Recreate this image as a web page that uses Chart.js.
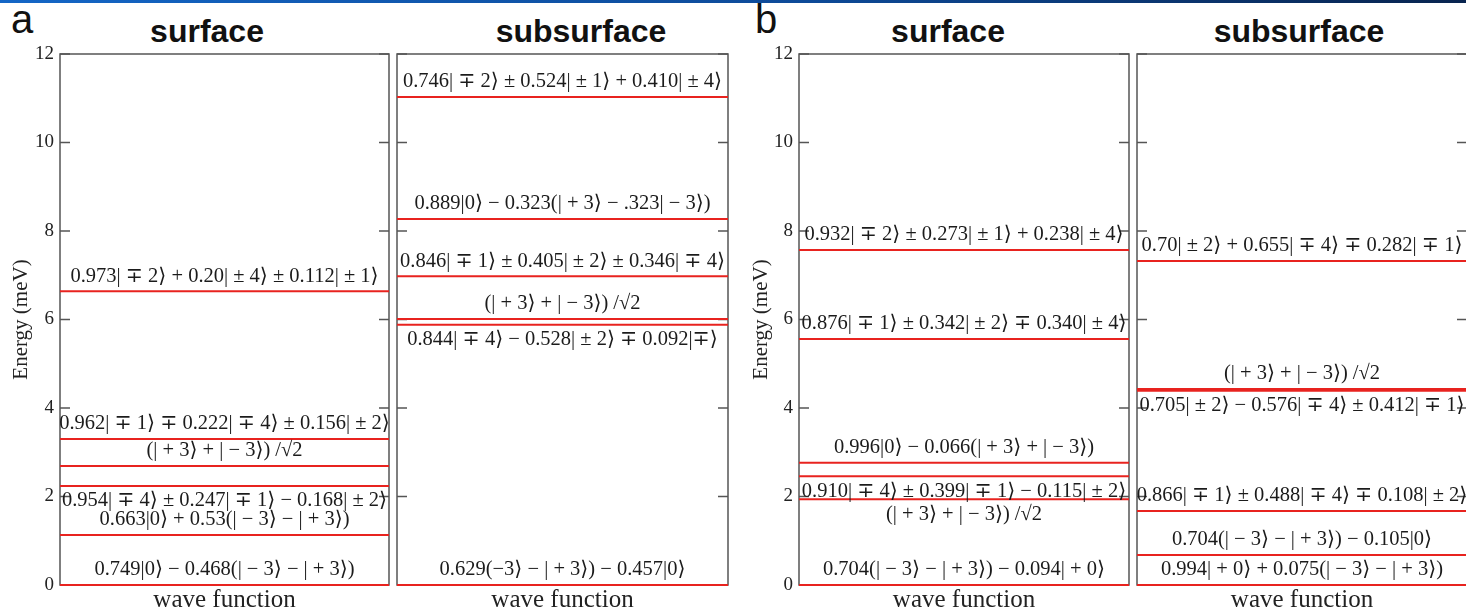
<!DOCTYPE html>
<html>
<head>
<meta charset="utf-8">
<script src="https://cdn.jsdelivr.net/npm/chart.js@4.4.1/dist/chart.umd.min.js"></script>
<style>
  body { margin: 0; width: 1466px; height: 615px; overflow: hidden; background: #fff; position: relative; }
  .strip { position: absolute; left: 0; top: 0; width: 1466px; height: 3px;
    background: linear-gradient(to right, #1466c6, #0d4a98 55%, #08244f); }
  .letter { position: absolute; top: -1px; font: 40px/40px "Liberation Sans", Arial, sans-serif; color: #111; }
  .ptitle { position: absolute; top: 15px; width: 300px; text-align: center;
    font: bold 32px/32px "Liberation Sans", Arial, sans-serif; color: #111; }
  canvas { position: absolute; top: 0; }
</style>
</head>
<body>
<div class="strip"></div>
<div class="letter" style="left:11px">a</div>
<div class="letter" style="left:755px">b</div>
<div class="ptitle" style="left:57px">surface</div>
<div class="ptitle" style="left:431px">subsurface</div>
<div class="ptitle" style="left:798px">surface</div>
<div class="ptitle" style="left:1149px">subsurface</div>
<canvas id="aSurface"></canvas>
<canvas id="aSubsurface"></canvas>
<canvas id="bSurface"></canvas>
<canvas id="bSubsurface"></canvas>
<script>
// energy levels (meV) and their wave functions, per panel
const yTicks = [0, 2, 4, 6, 8, 10, 12];

const aSurfaceEnergy = [0, 1.13, 2.24, 2.69, 3.30, 6.64];
const aSurfaceWave = [
  "0.749|0⟩ − 0.468(| − 3⟩ − | + 3⟩)",
  "0.663|0⟩ + 0.53(| − 3⟩ − | + 3⟩)",
  "0.954| ∓ 4⟩ ± 0.247| ∓ 1⟩ − 0.168| ± 2⟩",
  "(| + 3⟩ + | − 3⟩) /√2",
  "0.962| ∓ 1⟩ ∓ 0.222| ∓ 4⟩ ± 0.156| ± 2⟩",
  "0.973| ∓ 2⟩ + 0.20| ± 4⟩ ± 0.112| ± 1⟩"
];
const aSurfaceSide = ["up", "up", "down", "up", "up", "up"];

const aSubEnergy = [0, 5.88, 6.01, 6.98, 8.27, 11.03];
const aSubWave = [
  "0.629(−3⟩ − | + 3⟩) − 0.457|0⟩",
  "0.844| ∓ 4⟩ − 0.528| ± 2⟩ ∓ 0.092|∓⟩",
  "(| + 3⟩ + | − 3⟩) /√2",
  "0.846| ∓ 1⟩ ± 0.405| ± 2⟩ ± 0.346| ∓ 4⟩",
  "0.889|0⟩ − 0.323(| + 3⟩ − .323| − 3⟩)",
  "0.746| ∓ 2⟩ ± 0.524| ± 1⟩ + 0.410| ± 4⟩"
];
const aSubSide = ["up", "down", "up", "up", "up", "up"];

const bSurfaceEnergy = [0, 1.94, 2.46, 2.76, 5.56, 7.57];
const bSurfaceWave = [
  "0.704(| − 3⟩ − | + 3⟩) − 0.094| + 0⟩",
  "(| + 3⟩ + | − 3⟩) /√2",
  "0.910| ∓ 4⟩ ± 0.399| ∓ 1⟩ − 0.115| ± 2⟩",
  "0.996|0⟩ − 0.066(| + 3⟩ + | − 3⟩)",
  "0.876| ∓ 1⟩ ± 0.342| ± 2⟩ ∓ 0.340| ± 4⟩",
  "0.932| ∓ 2⟩ ± 0.273| ± 1⟩ + 0.238| ± 4⟩"
];
const bSurfaceSide = ["up", "down", "down", "up", "up", "up"];

const bSubEnergy = [0, 0.68, 1.67, 4.39, 4.43, 7.32];
const bSubWave = [
  "0.994| + 0⟩ + 0.075(| − 3⟩ − | + 3⟩)",
  "0.704(| − 3⟩ − | + 3⟩) − 0.105|0⟩",
  "0.866| ∓ 1⟩ ± 0.488| ∓ 4⟩ ∓ 0.108| ± 2⟩",
  "0.705| ± 2⟩ − 0.576| ∓ 4⟩ ± 0.412| ∓ 1⟩",
  "(| + 3⟩ + | − 3⟩) /√2",
  "0.70| ± 2⟩ + 0.655| ∓ 4⟩ ∓ 0.282| ∓ 1⟩"
];
const bSubSide = ["up", "up", "up", "down", "up", "up"];

const serif = '"Liberation Serif", "DejaVu Serif", "DejaVu Sans", serif';

// frame round the plot area with inward ticks on both sides
const framePlugin = {
  id: "frame",
  beforeDatasetsDraw(chart) {
    const { ctx, chartArea: a, scales: { y } } = chart;
    ctx.save();
    ctx.strokeStyle = "#555";
    ctx.lineWidth = 1.5;
    ctx.strokeRect(a.left, a.top, a.right - a.left, a.bottom - a.top);
    ctx.lineWidth = 1.3;
    yTicks.forEach((v) => {
      const py = y.getPixelForValue(v);
      ctx.beginPath();
      ctx.moveTo(a.left, py);
      ctx.lineTo(a.left + 10, py);
      ctx.moveTo(a.right - 10, py);
      ctx.lineTo(a.right, py);
      ctx.stroke();
    });
    ctx.restore();
  }
};

// wave function text above or below each level
const levelLabels = {
  id: "levelLabels",
  afterDatasetsDraw(chart, args, opts) {
    const { ctx } = chart;
    ctx.save();
    ctx.font = "20.5px " + serif;
    ctx.fillStyle = "#1b1b1b";
    ctx.textAlign = "center";
    ctx.textBaseline = "middle";
    chart.data.datasets.forEach((ds, i) => {
      const pts = chart.getDatasetMeta(i).data;
      const cx = (pts[0].x + pts[1].x) / 2;
      const dy = opts.sides[i] === "down" ? 15 : -15;
      ctx.fillText(ds.label, cx, pts[0].y + dy);
    });
    ctx.restore();
  }
};

function makePanel(id, left, width, axisWidth, padRight, energy, wave, sides, labelled) {
  const canvas = document.getElementById(id);
  canvas.width = width;
  canvas.height = 615;
  canvas.style.left = left + "px";

  new Chart(canvas, {
    type: "line",
    data: {
      datasets: energy.map((e, i) => ({
        label: wave[i],
        data: [{ x: 0, y: e }, { x: 1, y: e }],
        borderColor: "#e8231f",
        borderWidth: 2,
        pointRadius: 0,
        clip: false
      }))
    },
    options: {
      responsive: false,
      animation: false,
      layout: { padding: { top: 54, right: padRight, left: 0, bottom: 0 } },
      plugins: {
        legend: { display: false },
        tooltip: { enabled: false },
        levelLabels: { sides: sides }
      },
      scales: {
        x: {
          type: "linear",
          min: 0,
          max: 1,
          ticks: { display: false },
          grid: { display: false },
          border: { display: false },
          title: {
            display: true,
            text: "wave function",
            color: "#222",
            font: { family: serif, size: 25 },
            padding: { top: 0, bottom: 0 }
          },
          afterFit: (s) => { s.height = 30; }
        },
        y: {
          min: 0,
          max: 12,
          afterBuildTicks: (s) => { s.ticks = yTicks.map((v) => ({ value: v })); },
          ticks: { display: labelled, padding: 6, color: "#222", font: { family: serif, size: 19 } },
          grid: { display: false, drawTicks: false },
          border: { display: false },
          title: {
            display: labelled,
            text: "Energy (meV)",
            color: "#222",
            font: { family: serif, size: 21 },
            padding: { top: 9, bottom: 0 }
          },
          afterFit: (s) => { s.width = axisWidth; }
        }
      }
    },
    plugins: [framePlugin, levelLabels]
  });
}

makePanel("aSurface", 0, 393, 60, 4, aSurfaceEnergy, aSurfaceWave, aSurfaceSide, true);
makePanel("aSubsurface", 393, 347, 4, 12, aSubEnergy, aSubWave, aSubSide, false);
makePanel("bSurface", 740, 393, 59, 4, bSurfaceEnergy, bSurfaceWave, bSurfaceSide, true);
makePanel("bSubsurface", 1133, 336, 4, 2, bSubEnergy, bSubWave, bSubSide, false);
</script>
</body>
</html>
